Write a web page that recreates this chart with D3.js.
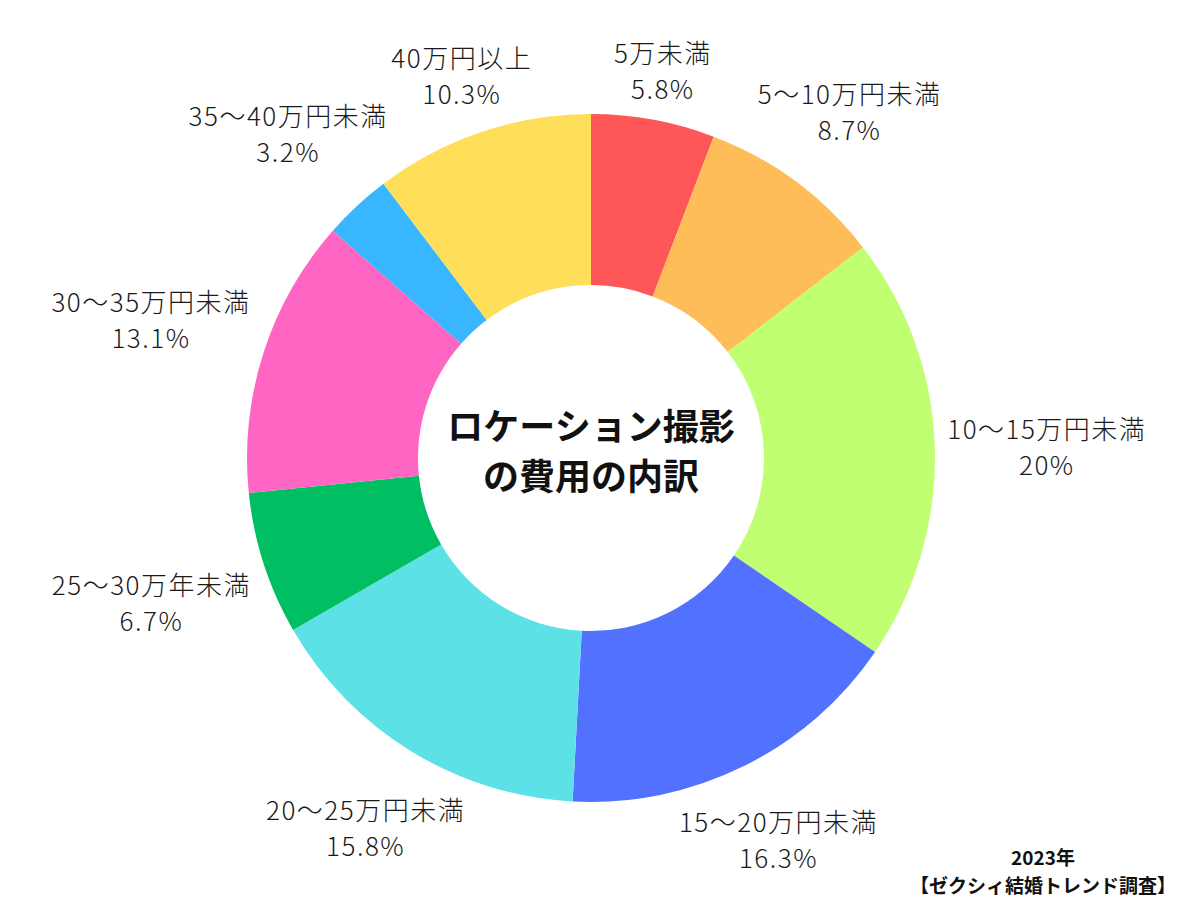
<!DOCTYPE html>
<html>
<head>
<meta charset="utf-8">
<script src="https://cdn.jsdelivr.net/npm/d3@7"></script>
<style>
  html, body { margin: 0; padding: 0; background: #fff; }
  svg { display: block; }
  text { font-family: "Noto Sans CJK JP", "Noto Sans", sans-serif; }
</style>
</head>
<body>
<svg id="chart" width="1200" height="919"></svg>
<script>
const categories = ["5万未満", "5〜10万円未満", "10〜15万円未満", "15〜20万円未満", "20〜25万円未満", "25〜30万年未満", "30〜35万円未満", "35〜40万円未満", "40万円以上"];
const values = [5.8, 8.7, 20, 16.3, 15.8, 6.7, 13.1, 3.2, 10.3];
const valueLabels = ["5.8%", "8.7%", "20%", "16.3%", "15.8%", "6.7%", "13.1%", "3.2%", "10.3%"];
const colors = ["#FF5757", "#FFBD59", "#C1FF72", "#5271FF", "#5CE1E6", "#00BF63", "#FF66C4", "#38B6FF", "#FFDE59"];
const titleLines = ["ロケーション撮影", "の費用の内訳"];
const sourceLines = ["2023年", "【ゼクシィ結婚トレンド調査】"];

const W = 1200, H = 919;
const cx = 591, cy = 458, R = 344, r0 = 173;
const svg = d3.select("#chart");
const g = svg.append("g").attr("transform", `translate(${cx},${cy})`);

const data = categories.map((c, i) => ({ cat: c, value: values[i], label: valueLabels[i], color: colors[i] }));
const pie = d3.pie().value(d => d.value).sort(null);
const arcs = pie(data);
const arc = d3.arc().innerRadius(r0).outerRadius(R);

g.selectAll("path.slice").data(arcs).enter().append("path")
  .attr("class", "slice")
  .attr("d", arc)
  .attr("fill", d => d.data.color);

// labels
const fs = 26, lh = 36, gap = 12;
arcs.forEach(a => {
  const mid = (a.startAngle + a.endAngle) / 2;
  const t = g.append("text").attr("text-anchor", "middle").attr("font-size", fs)
    .attr("font-weight", 300).attr("letter-spacing", "1.5px").attr("fill", "#1a1a1a");
  const t1 = t.append("tspan").attr("x", 0).attr("y", 0).text(a.data.cat);
  const t2 = t.append("tspan").attr("x", 0).attr("y", lh).text(a.data.label);
  const w = Math.max(t1.node().getComputedTextLength(), t2.node().getComputedTextLength());
  const hw = w / 2, hh = (lh + fs * 0.8) / 2 + 5;
  const ux = Math.sin(mid), uy = -Math.cos(mid);
  let rr = R;
  for (let k = 0; k < 400; k++) {
    const bx = rr * ux, by = rr * uy;
    const dx = Math.max(Math.abs(bx) - hw, 0), dy = Math.max(Math.abs(by) - hh, 0);
    if (Math.hypot(dx, dy) >= R + gap) break;
    rr += 1;
  }
  const bx = rr * ux, by = rr * uy + 2;
  const top = by - (lh + fs * 0.8) / 2;
  t.attr("transform", `translate(${bx},${top + fs * 0.8})`);
});

// center title
const title = g.append("text").attr("text-anchor", "middle").attr("font-size", 36).attr("font-weight", "bold").attr("fill", "#111");
titleLines.forEach((s, i) => title.append("tspan").attr("x", 0).attr("y", -18 + i * 50).text(s));

// source
const src = svg.append("text").attr("text-anchor", "middle").attr("font-size", 19).attr("font-weight", "bold").attr("fill", "#111");
sourceLines.forEach((s, i) => src.append("tspan").attr("x", 1043).attr("y", 865 + i * 28).text(s));
</script>
</body>
</html>
